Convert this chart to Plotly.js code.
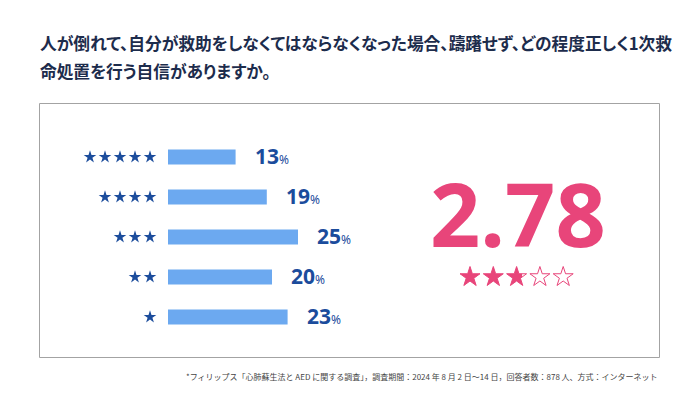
<!DOCTYPE html>
<html><head><meta charset="utf-8">
<script src="https://cdn.plot.ly/plotly-3.0.1.min.js"></script>
<style>html,body{margin:0;padding:0;background:#fff}#chart{width:700px;height:394px}
#chart g.annotation[data-index="0"] text, #chart g.annotation[data-index="1"] text{font-feature-settings:"palt" 1;}</style>
</head><body><div id="chart"></div>
<script>
// ---- data ----
const ratings = [5, 4, 3, 2, 1];            // number of stars per row
const shares = [13, 19, 25, 20, 23];        // percent of respondents
const average = 2.78;                       // average rating
const maxStars = 5;
const titleLines = [
  "人が倒れて、自分が救助をしなくてはならなくなった場合、躊躇せず、どの程度正しく1次救",
  "命処置を行う自信がありますか。"
];
const footnote = "*フィリップス「心肺蘇生法と AED に関する調査」，調査期間：2024 年 8 月 2 日～14 日，回答者数：878 人、方式：インターネット";

// ---- helpers ----
const W = 700, H = 394;
const px = v => v / W;
const py = v => 1 - v / H;
const navy = '#1b4c9c';
const pink = '#e8457a';
const barColor = '#6ca9f0';

// left stars (blue) built from the ratings
const lsx = [], lsy = [];
ratings.forEach(r => { for (let j = 1; j <= r; j++) { lsx.push(-j); lsy.push(r); } });

// pink rating stars
const starIdx = [];
for (let i = 1; i <= maxStars; i++) starIdx.push(i);
const full = Math.floor(average);
const filledIdx = starIdx.filter(i => i <= Math.ceil(average));
const starW = 0.84;
const partI = full + 1;
const cutX = partI - starW / 2 + (average - full) * starW;

const traces = [
  {type: 'bar', orientation: 'h', x: shares, y: ratings, width: 0.375,
   marker: {color: barColor}, hoverinfo: 'none', xaxis: 'x', yaxis: 'y'},
  {type: 'scatter', mode: 'markers', x: lsx, y: lsy, xaxis: 'x2', yaxis: 'y',
   marker: {symbol: 'star', size: 9.5, color: navy, line: {width: 0}}, hoverinfo: 'none'},
  {type: 'scatter', mode: 'markers', x: filledIdx, y: filledIdx.map(() => 0), xaxis: 'x3', yaxis: 'y3',
   marker: {symbol: 'star', size: 15, color: pink, line: {width: 0}}, hoverinfo: 'none'},
  {type: 'scatter', mode: 'lines', x: [cutX, partI + 0.5], y: [0, 0], xaxis: 'x3', yaxis: 'y3',
   line: {color: '#ffffff', width: 26}, hoverinfo: 'none'},
  {type: 'scatter', mode: 'markers', x: starIdx, y: starIdx.map(() => 0), xaxis: 'x3', yaxis: 'y3',
   marker: {symbol: 'star-open', size: 15, color: pink, line: {width: 1, color: pink}}, hoverinfo: 'none'}
];

const annotations = [];
titleLines.forEach((t, i) => annotations.push({
  xref: 'paper', yref: 'paper', x: px(38), y: py(43 + i * 28), xanchor: 'left', yanchor: 'middle',
  align: 'left', text: t, showarrow: false,
  font: {family: '"Noto Sans CJK JP", sans-serif', size: 16.7, color: '#1d2c4c', weight: 'bold'}
}));
shares.forEach((s, i) => annotations.push({
  xref: 'x', yref: 'y', x: s, y: ratings[i], xanchor: 'left', yanchor: 'middle', xshift: 17, yshift: 1,
  text: '<b>' + s + '</b><span style="font-size:12px">%</span>', showarrow: false,
  font: {family: '"Noto Sans", sans-serif', size: 21, color: navy}
}));
annotations.push({
  xref: 'paper', yref: 'paper', x: px(518), y: py(213), xanchor: 'center', yanchor: 'middle',
  text: average.toFixed(2), showarrow: false,
  font: {family: '"Noto Sans", sans-serif', size: 88, color: pink, weight: 'bold'}
});
annotations.push({
  xref: 'paper', yref: 'paper', x: px(660), y: py(376), xanchor: 'right', yanchor: 'middle',
  text: footnote, showarrow: false,
  font: {family: '"Noto Sans CJK JP", sans-serif', size: 8, color: '#444'}
});

const layout = {
  width: W, height: H, margin: {l: 0, r: 0, t: 0, b: 0},
  paper_bgcolor: '#fff', plot_bgcolor: 'rgba(0,0,0,0)', showlegend: false,
  xaxis: {domain: [px(168), px(428)], range: [0, 50], visible: false, fixedrange: true},
  yaxis: {domain: [py(337), py(137)], range: [0.5, 5.5], visible: false, fixedrange: true},
  xaxis2: {domain: [px(60), px(160)], range: [-7, -0.333], visible: false, anchor: 'y'},
  xaxis3: {domain: [px(440), px(600)], range: [-0.288, 6.58], visible: false, anchor: 'y3'},
  yaxis3: {domain: [py(297), py(257)], range: [-1, 1], visible: false, anchor: 'x3'},
  shapes: [{type: 'rect', xref: 'paper', yref: 'paper', x0: px(39.5), x1: px(659.5), y0: py(357.5), y1: py(103.5),
            line: {color: '#a3a3a3', width: 1}, fillcolor: 'rgba(0,0,0,0)', layer: 'below'}],
  annotations: annotations
};
Plotly.newPlot('chart', traces, layout, {staticPlot: true, displayModeBar: false});
</script></body></html>
